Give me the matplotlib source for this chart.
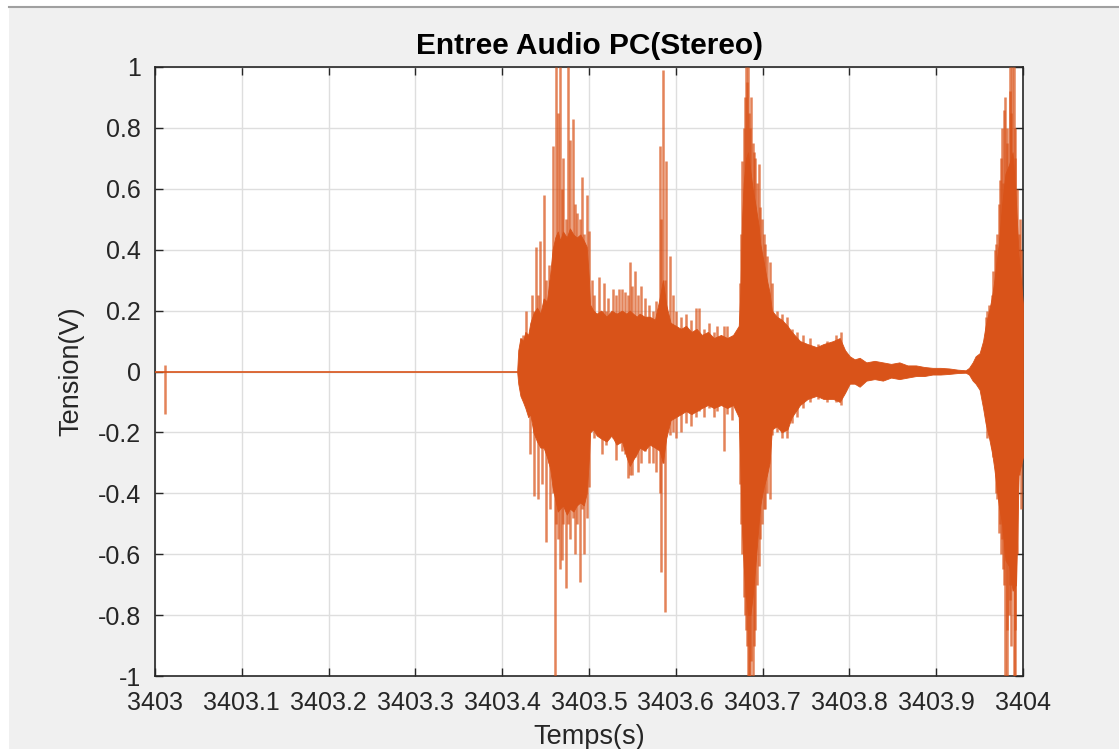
import matplotlib
matplotlib.use("Agg")
import matplotlib.pyplot as plt
from matplotlib.patches import Rectangle
from matplotlib.lines import Line2D

plt.rcParams['font.family'] = ['Liberation Sans', 'DejaVu Sans']
plt.rcParams['axes.unicode_minus'] = False

# ---------------- data ----------------
title = "Entree Audio PC(Stereo)"
xlabel = "Temps(s)"
ylabel = "Tension(V)"
x_ticks = [3403.0, 3403.1, 3403.2, 3403.3, 3403.4, 3403.5, 3403.6, 3403.7, 3403.8, 3403.9, 3404.0]
x_ticklabels = ["3403", "3403.1", "3403.2", "3403.3", "3403.4", "3403.5", "3403.6", "3403.7", "3403.8", "3403.9", "3404"]
y_ticks = [-1, -0.8, -0.6, -0.4, -0.2, 0, 0.2, 0.4, 0.6, 0.8, 1]
y_ticklabels = ["-1", "-0.8", "-0.6", "-0.4", "-0.2", "0", "0.2", "0.4", "0.6", "0.8", "1"]

# quiet part of the signal
quiet_t = [3403.0, 3403.4172]
quiet_v = [0.0, 0.0]

# envelope of the dense waveform (time, upper, lower)
env_t = [3403.4172, 3403.4185, 3403.4210, 3403.4240, 3403.4267, 3403.4300, 3403.4324, 3403.4360,
         3403.4401, 3403.4440, 3403.4477, 3403.4515, 3403.4553, 3403.4580, 3403.4611, 3403.4640,
         3403.4668, 3403.4700, 3403.4744, 3403.4780, 3403.4820, 3403.4859, 3403.4900, 3403.4940,
         3403.4973, 3403.5000, 3403.5012, 3403.5050, 3403.5088, 3403.5140, 3403.5202, 3403.5260,
         3403.5317, 3403.5380, 3403.5431, 3403.5470, 3403.5508, 3403.5550, 3403.5584, 3403.5640,
         3403.5699, 3403.5760, 3403.5813, 3403.5851, 3403.5889, 3403.5940, 3403.6000, 3403.6060,
         3403.6118, 3403.6180, 3403.6240, 3403.6300, 3403.6370, 3403.6439, 3403.6520, 3403.6592,
         3403.6660, 3403.6725, 3403.6744, 3403.6763, 3403.6782, 3403.6809, 3403.6832, 3403.6859,
         3403.6885, 3403.6916, 3403.6954, 3403.6973, 3403.7012, 3403.7050, 3403.7080, 3403.7107,
         3403.7164, 3403.7221, 3403.7286, 3403.7336, 3403.7431, 3403.7520, 3403.7622,
         3403.7700, 3403.7813, 3403.7889, 3403.7950, 3403.8004, 3403.8060, 3403.8118, 3403.8195,
         3403.8290, 3403.8385, 3403.8480, 3403.8576, 3403.8670, 3403.8767, 3403.8860, 3403.8958,
         3403.9050, 3403.9149, 3403.9250, 3403.9340, 3403.9378, 3403.9420, 3403.9454, 3403.9500,
         3403.9540, 3403.9569, 3403.9610, 3403.9645, 3403.9670, 3403.9721, 3403.9760, 3403.9798,
         3403.9840, 3403.9880, 3403.9920, 3403.9950, 3404.0000]
env_hi = [0.00, 0.07, 0.11, 0.10, 0.13, 0.12, 0.16, 0.19,
          0.21, 0.19, 0.24, 0.23, 0.32, 0.40, 0.44, 0.46,
          0.43, 0.46, 0.44, 0.47, 0.45, 0.44, 0.45, 0.43,
          0.41, 0.30, 0.22, 0.20, 0.19, 0.20, 0.18, 0.20,
          0.19, 0.20, 0.19, 0.20, 0.19, 0.18, 0.19, 0.18,
          0.18, 0.17, 0.24, 0.30, 0.22, 0.16, 0.15, 0.14,
          0.15, 0.13, 0.14, 0.12, 0.13, 0.11, 0.12, 0.11,
          0.12, 0.15, 0.26, 0.50, 0.62, 0.70, 0.72, 0.66,
          0.60, 0.55, 0.48, 0.42, 0.36, 0.30, 0.26, 0.20,
          0.18, 0.17, 0.15, 0.13, 0.10, 0.09, 0.08,
          0.09, 0.10, 0.11, 0.07, 0.05, 0.04, 0.045, 0.03,
          0.035, 0.03, 0.025, 0.03, 0.02, 0.02, 0.015, 0.012,
          0.012, 0.01, 0.006, 0.004, 0.012, 0.03, 0.05, 0.06,
          0.10, 0.15, 0.20, 0.25, 0.30, 0.42, 0.55, 0.65,
          0.68, 0.72, 0.55, 0.38, 0.22]
env_lo = [0.00, -0.04, -0.08, -0.10, -0.12, -0.15, -0.14, -0.20,
          -0.23, -0.25, -0.25, -0.28, -0.32, -0.38, -0.42, -0.46,
          -0.45, -0.44, -0.47, -0.45, -0.46, -0.44, -0.43, -0.44,
          -0.40, -0.28, -0.20, -0.19, -0.21, -0.22, -0.23, -0.21,
          -0.24, -0.23, -0.28, -0.31, -0.29, -0.27, -0.25, -0.26,
          -0.24, -0.25, -0.26, -0.30, -0.22, -0.16, -0.15, -0.14,
          -0.13, -0.14, -0.13, -0.12, -0.11, -0.12, -0.11, -0.12,
          -0.11, -0.15, -0.32, -0.52, -0.64, -0.74, -0.80, -0.80,
          -0.74, -0.64, -0.50, -0.44, -0.38, -0.34, -0.30, -0.19,
          -0.18, -0.20, -0.19, -0.15, -0.11, -0.09, -0.08,
          -0.09, -0.09, -0.10, -0.07, -0.04, -0.04, -0.05, -0.03,
          -0.025, -0.03, -0.02, -0.025, -0.02, -0.015, -0.015, -0.01,
          -0.01, -0.008, -0.005, -0.004, -0.010, -0.03, -0.04, -0.06,
          -0.12, -0.17, -0.22, -0.27, -0.32, -0.44, -0.50, -0.62,
          -0.64, -0.72, -0.70, -0.34, -0.28]

# individual peaks of the waveform (time, lowest, highest)
spike_t = [3403.0115,
           3403.42176, 3403.42366, 3403.42786, 3403.43168, 3403.43435, 3403.43626, 3403.43931, 3403.44084,
           3403.44389, 3403.44580, 3403.44847, 3403.45076, 3403.45344, 3403.45534, 3403.45802, 3403.46031,
           3403.46221, 3403.46374, 3403.46603, 3403.46870, 3403.47061, 3403.47366, 3403.47557, 3403.47824,
           3403.48130, 3403.48397, 3403.48664, 3403.48969, 3403.49160, 3403.49427, 3403.49733, 3403.49962,
           3403.50305, 3403.50573, 3403.51183, 3403.51450, 3403.51718, 3403.51947, 3403.52214, 3403.52786,
           3403.53168, 3403.53473, 3403.53779, 3403.54122, 3403.54504, 3403.54695, 3403.55000, 3403.55267,
           3403.55649, 3403.56031, 3403.56412, 3403.56908, 3403.57366, 3403.57748, 3403.58130, 3403.58321,
           3403.58511, 3403.58702, 3403.58893, 3403.59351, 3403.59656, 3403.60038, 3403.60611, 3403.61183,
           3403.61756, 3403.62328, 3403.62710, 3403.63282, 3403.63855, 3403.64427, 3403.64771, 3403.65534,
           3403.65916, 3403.66489, 3403.67061, 3403.67366, 3403.67500, 3403.67634, 3403.67824, 3403.67950,
           3403.68092, 3403.68200, 3403.68321, 3403.68450, 3403.68588, 3403.68700, 3403.68855, 3403.69000,
           3403.69160, 3403.69300, 3403.69542, 3403.69733, 3403.69900, 3403.70115, 3403.70300, 3403.70496,
           3403.70802, 3403.71069, 3403.71641, 3403.72214, 3403.72863, 3403.73359, 3403.73931, 3403.74695,
           3403.75458, 3403.76412, 3403.77366, 3403.78511, 3403.79084,
           3403.95687, 3403.95900, 3403.96069, 3403.96450, 3403.96600, 3403.96756, 3403.96900, 3403.97023,
           3403.97214, 3403.97405, 3403.97500, 3403.97595, 3403.97700, 3403.97786, 3403.97977, 3403.98100,
           3403.98168, 3403.98359, 3403.98450, 3403.98550, 3403.98650, 3403.98740, 3403.98931, 3403.99050,
           3403.99122, 3403.99313, 3403.99504, 3403.99695, 3403.99750, 3403.99950]
spike_hi = [0.02,
            0.11, 0.12, 0.20, 0.13, 0.25, 0.20, 0.41, 0.25,
            0.43, 0.20, 0.58, 0.30, 0.35, 0.30, 0.74, 0.30,
            1.00, 0.85, 1.00, 0.60, 0.70, 0.50, 1.00, 0.76,
            0.83, 0.55, 0.52, 0.50, 0.64, 0.45, 0.58, 0.46,
            0.30, 0.25, 0.31, 0.20, 0.29, 0.20, 0.24, 0.27,
            0.25, 0.27, 0.27, 0.26, 0.25, 0.36, 0.28, 0.33,
            0.25, 0.28, 0.24, 0.22, 0.20, 0.23, 0.74, 0.50,
            0.99, 0.30, 0.69, 0.38, 0.25, 0.20, 0.18, 0.19,
            0.17, 0.21, 0.21, 0.14, 0.16, 0.13, 0.15, 0.15,
            0.15, 0.11, 0.12, 0.29, 0.45, 0.69, 0.80, 0.90,
            1.00, 0.95, 1.00, 0.85, 0.80, 0.90, 0.75, 0.72,
            0.70, 0.62, 0.68, 0.54, 0.50, 0.45, 0.42, 0.38,
            0.36, 0.29, 0.20, 0.19, 0.18, 0.14, 0.13, 0.12,
            0.11, 0.09, 0.10, 0.12, 0.13,
            0.18, 0.20, 0.22, 0.25, 0.33, 0.40, 0.42, 0.45,
            0.55, 0.63, 0.70, 0.80, 0.62, 0.86, 0.90, 0.80,
            0.75, 0.60, 0.92, 1.00, 0.85, 1.00, 1.00, 0.70,
            0.80, 0.60, 0.45, 0.50, 0.40, 0.20]
spike_lo = [-0.14,
            -0.06, -0.07, -0.10, -0.27, -0.15, -0.41, -0.20, -0.42,
            -0.20, -0.37, -0.25, -0.56, -0.30, -0.45, -0.40, -1.00,
            -0.50, -0.55, -0.65, -0.62, -0.50, -0.71, -0.50, -0.55,
            -0.48, -0.60, -0.50, -0.69, -0.45, -0.60, -0.48, -0.38,
            -0.18, -0.22, -0.20, -0.27, -0.20, -0.24, -0.22, -0.22,
            -0.29, -0.22, -0.26, -0.27, -0.35, -0.34, -0.34, -0.28,
            -0.33, -0.30, -0.26, -0.30, -0.30, -0.33, -0.40, -0.66,
            -0.30, -0.79, -0.20, -0.21, -0.20, -0.22, -0.20, -0.17,
            -0.18, -0.15, -0.13, -0.15, -0.12, -0.15, -0.13, -0.26,
            -0.14, -0.16, -0.13, -0.37, -0.50, -0.60, -0.74, -0.80,
            -0.85, -0.90, -1.00, -1.00, -1.00, -0.95, -1.00, -0.90,
            -0.85, -0.70, -0.64, -0.55, -0.50, -0.45, -0.45, -0.40,
            -0.42, -0.21, -0.20, -0.22, -0.22, -0.17, -0.15, -0.12,
            -0.10, -0.09, -0.10, -0.10, -0.11,
            -0.15, -0.22, -0.20, -0.25, -0.28, -0.30, -0.40, -0.42,
            -0.53, -0.50, -0.60, -0.55, -0.65, -0.70, -1.00, -0.85,
            -1.00, -0.80, -0.70, -0.75, -0.90, -0.70, -1.00, -0.85,
            -1.00, -0.60, -0.34, -0.30, -0.45, -0.25]

# ---------------- figure ----------------
W, H = 1119, 749
fig = plt.figure(figsize=(W / 100, H / 100), dpi=100, facecolor='white')
# window background (screenshot look)
fig.patches.append(Rectangle((9 / W, 0), 1 - 9 / W, 1 - 8 / H, transform=fig.transFigure,
                             facecolor='#f0f0f0', edgecolor='none', zorder=-10))
fig.lines.append(Line2D([9 / W, 1], [1 - 6.5 / H, 1 - 6.5 / H], transform=fig.transFigure,
                        color='#a0a0a0', lw=1.5))

ax = fig.add_axes([155 / W, 1 - 676 / H, (1023 - 155) / W, (676 - 67) / H])
ax.set_facecolor('white')

orange = '#D95319'
ax.plot(quiet_t, quiet_v, color=orange, lw=1.2, zorder=3)
ax.fill_between(env_t, env_lo, env_hi, color=orange, lw=0.6, edgecolor=orange, zorder=3)
ax.vlines(spike_t, spike_lo, spike_hi, color=orange, alpha=0.72, lw=1.8, zorder=3)

ax.set_xlim(3403, 3404)
ax.set_ylim(-1, 1)
ax.set_xticks(x_ticks)
ax.set_xticklabels(x_ticklabels)
ax.set_yticks(y_ticks)
ax.set_yticklabels(y_ticklabels)

ax.grid(True, color='#dedede', lw=1.0, zorder=0)
ax.set_axisbelow(True)
for s in ax.spines.values():
    s.set_color('#262626')
    s.set_linewidth(1.2)
ax.tick_params(direction='in', length=5.5, width=1.0, color='#262626',
               top=True, right=True, labelsize=18, labelcolor='#262626', pad=11)
ax.tick_params(axis='y', pad=10)

ax.set_title(title, fontsize=21.5, fontweight='bold', color='black', pad=9)
ax.set_xlabel(xlabel, fontsize=19.5, color='#262626', labelpad=6)
ax.set_ylabel(ylabel, fontsize=19.5, color='#262626', labelpad=10)

fig.savefig('out.png', dpi=100, facecolor=fig.get_facecolor())
